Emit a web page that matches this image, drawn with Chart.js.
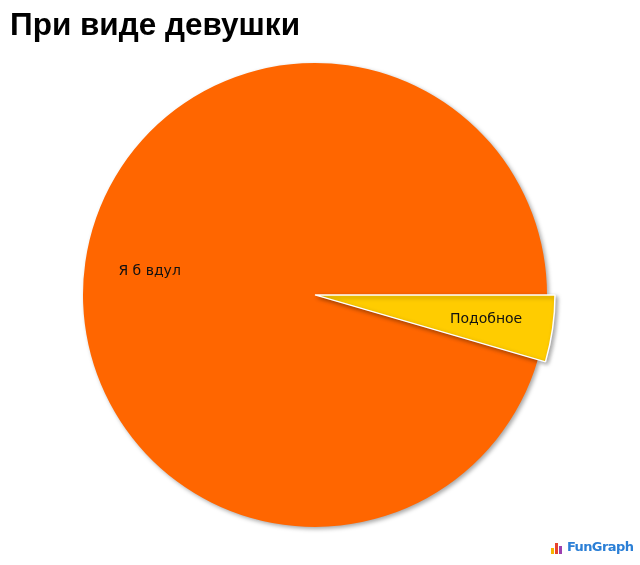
<!DOCTYPE html>
<html>
<head>
<meta charset="utf-8">
<script src="https://cdn.jsdelivr.net/npm/chart.js@4/dist/chart.umd.min.js"></script>
<style>
  body { margin: 0; background: #fff; }
  #wrap { position: relative; width: 640px; height: 565px; }
  #logo { position: absolute; left: 551px; top: 539px; font: bold 13px "DejaVu Sans", sans-serif; color: #2b7fd6; letter-spacing: -0.6px; }
  #logo i { display: inline-block; width: 3px; margin-right: 1px; vertical-align: bottom; }
</style>
</head>
<body>
<div id="wrap">
  <canvas id="pie" width="640" height="565"></canvas>
  <div id="logo"><i style="height:6px;background:#f7b500"></i><i style="height:11px;background:#e8442c"></i><i style="height:8px;background:#9c3fb0"></i> FunGraph</div>
</div>
<script>
// Chart data
const labels = ['Я б вдул', 'Подобное'];
const values = [95.5, 4.5];
const colors = ['#FF6600', '#FFCC00'];
const pullOut = [0, 8]; // extra radius of the highlighted slice

const total = values.reduce((a, b) => a + b, 0);

// highlighted slice sticks out past the rim
const explodeSlice = {
    id: 'explodeSlice',
    afterDatasetsUpdate(chart) {
        chart.getDatasetMeta(0).data.forEach((arc, i) => {
            arc.baseRadius = arc.outerRadius;
            arc.outerRadius += pullOut[i];
        });
    }
};

// soft drop shadow under the pie
const shadow = {
    id: 'shadow',
    beforeDatasetsDraw(chart) {
        const ctx = chart.ctx;
        ctx.save();
        ctx.shadowColor = 'rgba(0,0,0,0.35)';
        ctx.shadowBlur = 4;
        ctx.shadowOffsetX = 2;
        ctx.shadowOffsetY = 2;
    },
    afterDatasetsDraw(chart) {
        chart.ctx.restore();
    }
};

// labels inside the slices
const sliceLabels = {
    id: 'sliceLabels',
    afterDraw(chart) {
        const ctx = chart.ctx;
        ctx.save();
        ctx.font = '14px "DejaVu Sans", sans-serif';
        ctx.fillStyle = '#111';
        ctx.textAlign = 'center';
        ctx.textBaseline = 'middle';
        chart.getDatasetMeta(0).data.forEach((arc, i) => {
            const mid = (arc.startAngle + arc.endAngle) / 2;
            const r = arc.outerRadius * 0.72;
            ctx.fillText(labels[i], arc.x + Math.cos(mid) * r, arc.y + Math.sin(mid) * r);
        });
        ctx.restore();
    }
};

new Chart(document.getElementById('pie'), {
    type: 'pie',
    data: {
        labels: labels,
        datasets: [{
            data: values,
            backgroundColor: colors,
            borderColor: '#fff',
            borderWidth: [0, 1.5]
        }]
    },
    options: {
        responsive: false,
        animation: false,
        radius: 232,
        rotation: 90 + 360 * values[1] / total,
        layout: { padding: { left: 10, right: 20, top: 0, bottom: 20 } },
        plugins: {
            legend: { display: false },
            tooltip: { enabled: false },
            title: {
                display: true,
                text: 'При виде девушки',
                align: 'start',
                color: '#000',
                font: { family: '"Liberation Sans", Arial, sans-serif', size: 31.5, weight: 'bold' },
                padding: { top: 7, bottom: 0 }
            }
        }
    },
    plugins: [explodeSlice, shadow, sliceLabels]
});
</script>
</body>
</html>
